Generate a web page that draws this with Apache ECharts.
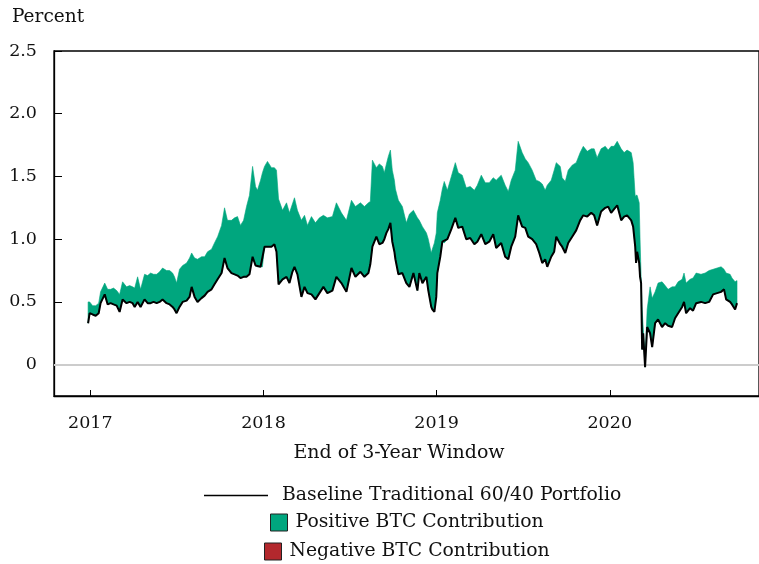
<!DOCTYPE html>
<html>
<head>
<meta charset="utf-8">
<script src="https://cdn.jsdelivr.net/npm/echarts@6/dist/echarts.min.js"></script>
<style>
  html, body { margin: 0; padding: 0; background: #fff; }
  #chart { width: 759px; height: 564px; }
</style>
</head>
<body>
<div id="chart"></div>
<script>
// End of window, in decimal years
var years = [
  2016.987, 2016.996, 2017.013, 2017.031, 2017.048, 2017.059, 2017.083, 2017.100, 2017.117, 2017.134,
  2017.152, 2017.169, 2017.186, 2017.209, 2017.227, 2017.244, 2017.256, 2017.273, 2017.290, 2017.313,
  2017.331, 2017.348, 2017.365, 2017.383, 2017.400, 2017.417, 2017.440, 2017.458, 2017.475, 2017.486,
  2017.498, 2017.515, 2017.533, 2017.556, 2017.573, 2017.585, 2017.602, 2017.619, 2017.642, 2017.660,
  2017.677, 2017.700, 2017.717, 2017.735, 2017.758, 2017.775, 2017.792, 2017.815, 2017.833, 2017.850,
  2017.867, 2017.885, 2017.902, 2017.919, 2017.937, 2017.954, 2017.965, 2017.983, 2017.994, 2018.006,
  2018.023, 2018.046, 2018.063, 2018.075, 2018.087, 2018.110, 2018.133, 2018.150, 2018.167, 2018.179,
  2018.196, 2018.219, 2018.237, 2018.254, 2018.277, 2018.300, 2018.323, 2018.346, 2018.369, 2018.398,
  2018.421, 2018.450, 2018.479, 2018.508, 2018.531, 2018.560, 2018.583, 2018.606, 2018.617, 2018.629,
  2018.652, 2018.669, 2018.687, 2018.698, 2018.710, 2018.721, 2018.733, 2018.744, 2018.756, 2018.762,
  2018.779, 2018.802, 2018.825, 2018.843, 2018.866, 2018.889, 2018.900, 2018.918, 2018.941, 2018.952,
  2018.969, 2018.975, 2018.987, 2018.998, 2019.004, 2019.021, 2019.033, 2019.044, 2019.062, 2019.085,
  2019.108, 2019.125, 2019.148, 2019.171, 2019.194, 2019.218, 2019.235, 2019.258, 2019.281, 2019.304,
  2019.327, 2019.344, 2019.373, 2019.396, 2019.414, 2019.431, 2019.454, 2019.471, 2019.494, 2019.512,
  2019.529, 2019.552, 2019.575, 2019.593, 2019.610, 2019.627, 2019.639, 2019.662, 2019.679, 2019.691,
  2019.714, 2019.725, 2019.743, 2019.760, 2019.783, 2019.806, 2019.829, 2019.847, 2019.870, 2019.893,
  2019.910, 2019.927, 2019.950, 2019.974, 2019.991, 2020.008, 2020.025, 2020.043, 2020.066, 2020.083,
  2020.100, 2020.124, 2020.135, 2020.147, 2020.152, 2020.158, 2020.170, 2020.175, 2020.181, 2020.187,
  2020.193, 2020.204, 2020.216, 2020.233, 2020.245, 2020.262, 2020.279, 2020.302, 2020.320, 2020.337,
  2020.360, 2020.377, 2020.395, 2020.418, 2020.429, 2020.441, 2020.464, 2020.481, 2020.499, 2020.527,
  2020.551, 2020.574, 2020.597, 2020.620, 2020.643, 2020.660, 2020.672, 2020.695, 2020.706, 2020.724,
  2020.735
];

// Baseline traditional 60/40 portfolio (percent)
var baseline = [
  0.33, 0.41, 0.40, 0.39, 0.41, 0.49, 0.56, 0.48, 0.49, 0.48,
  0.47, 0.42, 0.52, 0.49, 0.50, 0.49, 0.46, 0.50, 0.46, 0.52,
  0.49, 0.49, 0.50, 0.49, 0.50, 0.52, 0.49, 0.48, 0.46, 0.44,
  0.41, 0.46, 0.50, 0.51, 0.54, 0.62, 0.54, 0.50, 0.53, 0.55,
  0.58, 0.60, 0.64, 0.68, 0.73, 0.85, 0.77, 0.73, 0.72, 0.71,
  0.69, 0.70, 0.70, 0.72, 0.86, 0.79, 0.78, 0.78, 0.78, 0.94,
  0.94, 0.94, 0.96, 0.90, 0.64, 0.68, 0.70, 0.65, 0.74, 0.78,
  0.72, 0.54, 0.62, 0.57, 0.56, 0.52, 0.57, 0.62, 0.57, 0.59,
  0.70, 0.65, 0.58, 0.77, 0.70, 0.74, 0.70, 0.73, 0.80, 0.94,
  1.02, 0.96, 0.97, 1.00, 1.05, 1.08, 1.13, 0.98, 0.90, 0.84,
  0.72, 0.73, 0.65, 0.62, 0.73, 0.59, 0.73, 0.65, 0.70, 0.59,
  0.46, 0.44, 0.42, 0.54, 0.73, 0.86, 0.98, 0.97, 1.00, 1.08,
  1.17, 1.09, 1.10, 1.00, 1.01, 0.96, 0.98, 1.04, 0.96, 0.98,
  1.04, 0.93, 0.97, 0.86, 0.84, 0.94, 1.02, 1.19, 1.10, 1.09,
  1.02, 1.00, 0.96, 0.89, 0.81, 0.84, 0.78, 0.86, 0.90, 1.02,
  0.96, 0.94, 0.89, 0.97, 1.02, 1.07, 1.15, 1.19, 1.18, 1.21,
  1.19, 1.11, 1.22, 1.25, 1.26, 1.21, 1.24, 1.27, 1.15, 1.18,
  1.19, 1.15, 1.10, 0.94, 0.81, 0.90, 0.81, 0.70, 0.65, 0.12,
  0.25, -0.02, 0.30, 0.25, 0.14, 0.33, 0.36, 0.30, 0.33, 0.31,
  0.30, 0.37, 0.41, 0.46, 0.50, 0.41, 0.45, 0.43, 0.49, 0.50,
  0.49, 0.50, 0.56, 0.57, 0.58, 0.60, 0.52, 0.50, 0.48, 0.44,
  0.49
];

// Portfolio including BTC (top of the shaded band, percent)
var withBtc = [
  0.50, 0.50, 0.47, 0.47, 0.49, 0.58, 0.65, 0.60, 0.60, 0.61,
  0.59, 0.56, 0.66, 0.62, 0.63, 0.62, 0.61, 0.70, 0.60, 0.72,
  0.71, 0.73, 0.72, 0.72, 0.74, 0.77, 0.75, 0.75, 0.73, 0.70,
  0.65, 0.76, 0.79, 0.81, 0.85, 0.89, 0.85, 0.84, 0.86, 0.86,
  0.90, 0.92, 0.97, 1.02, 1.11, 1.25, 1.15, 1.15, 1.17, 1.18,
  1.11, 1.15, 1.26, 1.35, 1.58, 1.42, 1.39, 1.47, 1.53, 1.58,
  1.62, 1.57, 1.57, 1.55, 1.32, 1.23, 1.29, 1.21, 1.28, 1.33,
  1.23, 1.15, 1.19, 1.11, 1.18, 1.13, 1.17, 1.19, 1.17, 1.18,
  1.29, 1.21, 1.15, 1.31, 1.26, 1.29, 1.26, 1.29, 1.30, 1.63,
  1.57, 1.60, 1.58, 1.53, 1.60, 1.66, 1.71, 1.55, 1.47, 1.40,
  1.31, 1.26, 1.13, 1.20, 1.23, 1.17, 1.15, 1.10, 1.05, 1.00,
  0.89, 0.92, 0.97, 1.05, 1.21, 1.31, 1.40, 1.46, 1.39, 1.50,
  1.61, 1.53, 1.51, 1.41, 1.42, 1.39, 1.43, 1.51, 1.45, 1.45,
  1.49, 1.47, 1.51, 1.43, 1.38, 1.47, 1.55, 1.78, 1.69, 1.64,
  1.61, 1.55, 1.47, 1.46, 1.44, 1.39, 1.43, 1.47, 1.55, 1.61,
  1.58, 1.49, 1.46, 1.55, 1.59, 1.61, 1.69, 1.74, 1.70, 1.72,
  1.72, 1.65, 1.72, 1.74, 1.71, 1.74, 1.74, 1.78, 1.72, 1.69,
  1.71, 1.69, 1.61, 1.34, 1.35, 1.35, 1.29, 1.00, 0.70, 0.44,
  0.30, 0.05, 0.44, 0.62, 0.53, 0.58, 0.65, 0.66, 0.63, 0.60,
  0.62, 0.62, 0.66, 0.68, 0.73, 0.65, 0.68, 0.69, 0.73, 0.72,
  0.73, 0.75, 0.76, 0.77, 0.78, 0.76, 0.73, 0.72, 0.69, 0.66,
  0.67
];

var yTicks = [0, 0.5, 1.0, 1.5, 2.0, 2.5];
var xTicks = [2017, 2018, 2019, 2020];

var FONT = 'DejaVu Serif';
var GREEN = '#00A67E';
var RED = '#B3282D';

var baseData = [];
var bandData = [];
for (var i = 0; i < years.length; i++) {
  baseData.push([years[i], baseline[i]]);
  bandData.push([years[i], withBtc[i], baseline[i]]);
}

// draws the whole band (baseline -> with BTC) as one polygon
function renderBand(params, api) {
  if (params.dataIndex !== 0) return null;
  var pts = [];
  for (var k = 0; k < years.length; k++) {
    pts.push(api.coord([years[k], withBtc[k]]));
  }
  for (var k2 = years.length - 1; k2 >= 0; k2--) {
    pts.push(api.coord([years[k2], baseline[k2]]));
  }
  return {
    type: 'polygon',
    shape: { points: pts },
    style: { fill: GREEN, stroke: GREEN, lineWidth: 0.6 }
  };
}

var myChart = echarts.init(document.getElementById('chart'));

var option = {
  animation: false,
  textStyle: { fontFamily: FONT },
  title: {
    text: 'Percent',
    left: 12,
    top: 8,
    padding: 0,
    textStyle: { fontFamily: FONT, fontSize: 18.5, fontWeight: 'normal', color: '#111' }
  },
  grid: {
    left: 54, right: -1, top: 51, bottom: 168,
    show: true, borderColor: '#000', borderWidth: 1.3, backgroundColor: 'transparent'
  },
  legend: [
    {
      data: [{ name: 'Baseline Traditional 60/40 Portfolio', icon: 'rect' }],
      left: 204, top: 486, padding: 0,
      itemWidth: 64, itemHeight: 1.5,
      textStyle: { fontFamily: FONT, fontSize: 18.8, color: '#111', padding: [0, 0, 0, 9] }
    },
    {
      data: [{ name: 'Positive BTC Contribution', icon: 'rect' }],
      left: 270, top: 513, padding: 0,
      itemWidth: 17, itemHeight: 17,
      itemStyle: { borderColor: '#222', borderWidth: 1 },
      textStyle: { fontFamily: FONT, fontSize: 18.8, color: '#111', padding: [0, 0, 0, 3] }
    },
    {
      data: [{ name: 'Negative BTC Contribution', icon: 'rect' }],
      left: 264, top: 542, padding: 0,
      itemWidth: 17, itemHeight: 17,
      itemStyle: { borderColor: '#222', borderWidth: 1 },
      textStyle: { fontFamily: FONT, fontSize: 18.8, color: '#111', padding: [0, 0, 0, 3] }
    }
  ],
  xAxis: {
    type: 'value',
    min: 2016.79,
    max: 2020.862,
    name: 'End of 3-Year Window',
    nameLocation: 'middle',
    nameGap: 48,
    nameTextStyle: { fontFamily: FONT, fontSize: 19, color: '#111', padding: [0, 15, 0, 0] },
    axisLine: { show: true, onZero: false, lineStyle: { color: '#000', width: 1.3 } },
    axisTick: { show: true, inside: true, length: 6, customValues: xTicks, lineStyle: { color: '#000' } },
    axisLabel: {
      customValues: xTicks,
      margin: 18,
      fontFamily: FONT, fontSize: 17.5, color: '#111',
      formatter: function (v) { return String(Math.round(v)); }
    },
    splitLine: { show: false }
  },
  yAxis: {
    type: 'value',
    min: -0.25,
    max: 2.5,
    axisLine: { show: true, onZero: false, lineStyle: { color: '#000', width: 1.3 } },
    axisTick: { show: true, inside: true, length: 8, customValues: yTicks, lineStyle: { color: '#000' } },
    axisLabel: {
      customValues: yTicks,
      margin: 17,
      fontFamily: FONT, fontSize: 17.5, color: '#111',
      formatter: function (v) { return v === 0 ? '0' : v.toFixed(1); }
    },
    splitLine: { show: false }
  },
  series: [
    {
      name: 'Positive BTC Contribution',
      type: 'custom',
      coordinateSystem: 'cartesian2d',
      renderItem: renderBand,
      data: bandData,
      encode: { x: 0, y: [1, 2] },
      itemStyle: { color: GREEN },
      clip: true,
      silent: true,
      z: 3
    },
    {
      name: 'Baseline Traditional 60/40 Portfolio',
      type: 'line',
      data: baseData,
      symbol: 'none',
      color: '#000',
      lineStyle: { color: '#000', width: 2 },
      z: 5
    },
    {
      name: 'Negative BTC Contribution',
      type: 'line',
      data: [],
      symbol: 'none',
      color: RED,
      lineStyle: { width: 0, color: RED },
      areaStyle: { color: RED, opacity: 1 },
      z: 1,
      // light zero reference line
      markLine: {
        silent: true,
        symbol: 'none',
        label: { show: false },
        lineStyle: { color: '#cccccc', type: 'solid', width: 2 },
        data: [{ yAxis: 0 }]
      }
    }
  ]
};

myChart.setOption(option);

window.onresize = function () {
  myChart.resize();
};
</script>
</body>
</html>
